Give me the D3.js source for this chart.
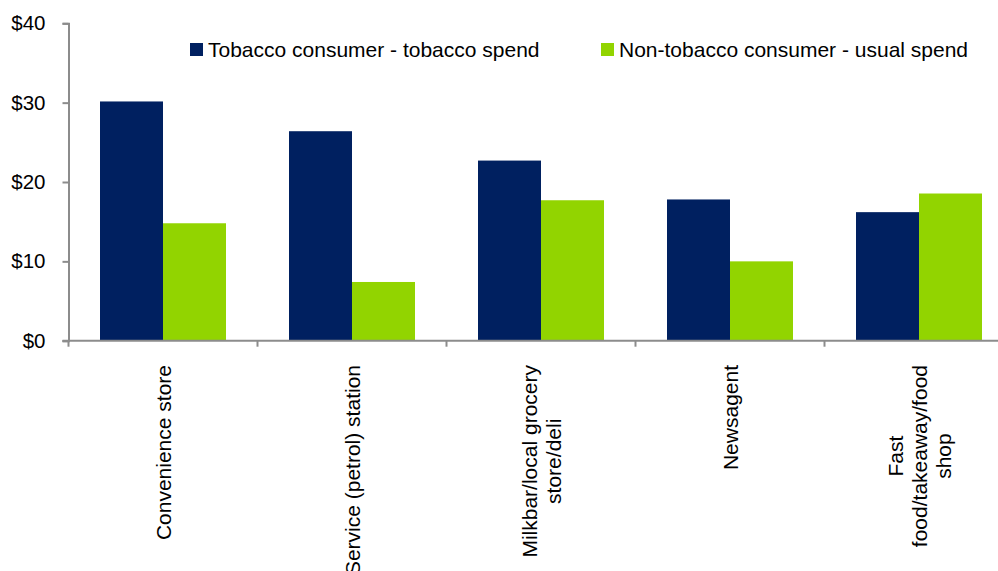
<!DOCTYPE html>
<html>
<head>
<meta charset="utf-8">
<script src="https://cdn.jsdelivr.net/npm/d3@7"></script>
<style>
  body { margin: 0; background: #fff; }
  svg { display: block; font-family: "Liberation Sans", Arial, sans-serif; }
</style>
</head>
<body>
<div id="canvas"></div>
<script>
// chart data
const categories = [
  ["Convenience store"],
  ["Service (petrol) station"],
  ["Milkbar/local grocery", "store/deli"],
  ["Newsagent"],
  ["Fast", "food/takeaway/food", "shop"]
];
const seriesNames = ["Tobacco consumer - tobacco spend", "Non-tobacco consumer - usual spend"];
const tobaccoSpend = [30.15, 26.4, 22.7, 17.8, 16.2];
const usualSpend = [14.8, 7.4, 17.7, 10.0, 18.55];
const yTicks = [0, 10, 20, 30, 40];
const colors = ["#002060", "#92d400"];

const width = 998;
const height = 571;
const margin = { top: 23.3, left: 68.5, bottom: 230.3 };

const svg = d3.select("#canvas").append("svg")
  .attr("width", width)
  .attr("height", height);

const catKeys = categories.map(c => c.join(" "));

const x = d3.scaleBand()
  .domain(catKeys)
  .range([margin.left, margin.left + 5 * 189])
  .padding(0);

const xs = d3.scaleBand()
  .domain([0, 1])
  .range([0, x.bandwidth()])
  .paddingInner(0)
  .paddingOuter(0.5);

const y = d3.scaleLinear()
  .domain([0, 40])
  .range([height - margin.bottom, margin.top]);

const rows = catKeys.map((k, i) => ({ key: k, vals: [tobaccoSpend[i], usualSpend[i]] }));

// bars
const groups = svg.append("g").selectAll("g")
  .data(rows)
  .enter().append("g")
  .attr("transform", d => `translate(${x(d.key)},0)`);

groups.selectAll("rect")
  .data(d => d.vals.map((v, s) => ({ v, s })))
  .enter().append("rect")
  .attr("x", d => xs(d.s))
  .attr("width", xs.bandwidth())
  .attr("y", d => y(d.v))
  .attr("height", d => y(0) - y(d.v))
  .attr("fill", d => colors[d.s]);

// y axis
const yAxis = svg.append("g")
  .attr("transform", `translate(${margin.left},0)`)
  .call(d3.axisLeft(y).tickValues(yTicks).tickSize(6).tickPadding(17).tickFormat(d => "$" + d));
yAxis.select(".domain").attr("stroke", "#8c8c8c").attr("stroke-width", 2);
yAxis.selectAll(".tick line").attr("stroke", "#8c8c8c").attr("stroke-width", 2);
yAxis.selectAll(".tick text")
  .attr("fill", "#000")
  .style("font-size", "20.5px")
  .style("font-family", "'Liberation Sans', Arial, sans-serif");

// x axis: line and boundary ticks
const x0 = y(0);
svg.append("line")
  .attr("x1", margin.left - 6).attr("x2", width)
  .attr("y1", x0).attr("y2", x0)
  .attr("stroke", "#8c8c8c").attr("stroke-width", 2);

const bounds = catKeys.map(k => x(k));
svg.append("g").selectAll("line")
  .data(bounds)
  .enter().append("line")
  .attr("x1", d => d).attr("x2", d => d)
  .attr("y1", x0).attr("y2", x0 + 6)
  .attr("stroke", "#8c8c8c").attr("stroke-width", 2);

// category labels, rotated
const lineH = 24;
const labels = svg.append("g").selectAll("g")
  .data(categories)
  .enter().append("g")
  .attr("transform", (d, i) => `translate(${x(catKeys[i]) + x.bandwidth() / 2},365) rotate(-90)`);

labels.each(function(lines) {
  const g = d3.select(this);
  const t = g.selectAll("text")
    .data(lines)
    .enter().append("text")
    .attr("text-anchor", "middle")
    .attr("dominant-baseline", "central")
    .attr("y", (d, i) => (i - (lines.length - 1) / 2) * lineH)
    .style("font-size", "21px")
    .attr("fill", "#000")
    .text(d => d);
  let maxW = 0;
  t.each(function() { maxW = Math.max(maxW, this.getComputedTextLength()); });
  t.attr("x", -maxW / 2);
});

// legend
const legendX = [190, 601];
const legend = svg.append("g").selectAll("g")
  .data(seriesNames)
  .enter().append("g")
  .attr("transform", (d, i) => `translate(${legendX[i]},0)`);

legend.append("rect")
  .attr("x", 0).attr("y", 43)
  .attr("width", 13).attr("height", 13)
  .attr("fill", (d, i) => colors[i]);

legend.append("text")
  .attr("x", 18).attr("y", 57)
  .style("font-size", "21px")
  .attr("fill", "#000")
  .text(d => d);
</script>
</body>
</html>
